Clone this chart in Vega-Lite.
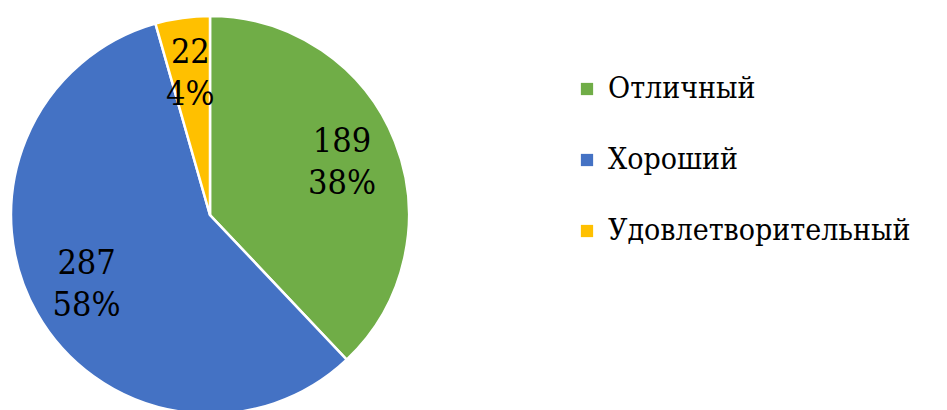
{
  "$schema": "https://vega.github.io/schema/vega-lite/v6.json",
  "width": 420,
  "height": 430,
  "padding": 0,
  "autosize": {"type": "pad"},
  "background": "white",
  "config": {"view": {"stroke": null}, "font": "DejaVu Serif Condensed, DejaVu Serif"},
  "data": {
    "values": [
      {"category": "Отличный", "value": 189, "pct": "38%", "n": 1},
      {"category": "Хороший", "value": 287, "pct": "58%", "n": 2},
      {"category": "Удовлетворительный", "value": 22, "pct": "4%", "n": 3}
    ]
  },
  "encoding": {
    "theta": {"field": "value", "type": "quantitative", "stack": true},
    "order": {"field": "n", "type": "quantitative"}
  },
  "layer": [
    {
      "mark": {"type": "arc", "outerRadius": 199, "stroke": "white", "strokeWidth": 2.5},
      "encoding": {
        "color": {
          "field": "category",
          "type": "nominal",
          "scale": {
            "domain": ["Отличный", "Хороший", "Удовлетворительный"],
            "range": ["#70AD47", "#4472C4", "#FFC000"]
          },
          "legend": {
            "title": null,
            "orient": "none",
            "legendX": 572,
            "legendY": 74,
            "symbolType": "square",
            "symbolSize": 150,
            "symbolStrokeWidth": 0,
            "labelFont": "DejaVu Serif Condensed, DejaVu Serif",
            "labelFontSize": 30,
            "labelColor": "black",
            "labelOffset": 6,
            "labelLimit": 0,
            "rowPadding": 41
          }
        }
      }
    },
    {
      "mark": {"type": "text", "radius": 142, "fontSize": 34, "dy": -21, "font": "DejaVu Serif Condensed, DejaVu Serif", "color": "black"},
      "encoding": {"text": {"field": "value", "type": "quantitative"}}
    },
    {
      "mark": {"type": "text", "radius": 142, "fontSize": 34, "dy": 21, "font": "DejaVu Serif Condensed, DejaVu Serif", "color": "black"},
      "encoding": {"text": {"field": "pct", "type": "nominal"}}
    }
  ]
}
